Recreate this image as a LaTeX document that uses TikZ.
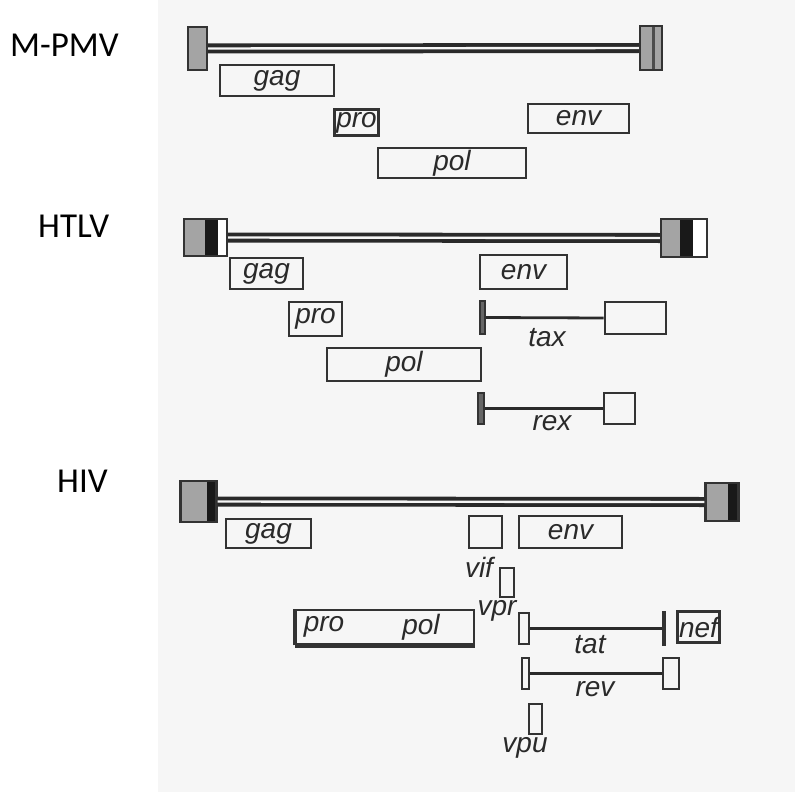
\documentclass[tikz,border=0pt]{standalone}
\usepackage{fontspec}
\setmainfont{Carlito}
\newfontfamily\genefont{Liberation Sans}
\definecolor{scanbg}{HTML}{F6F6F6}
\definecolor{boxc}{HTML}{333333}
\definecolor{linec}{HTML}{2A2A2A}
\definecolor{ltrgray}{HTML}{A4A4A4}
\definecolor{txt}{HTML}{2A2A2A}
\begin{document}
\begin{tikzpicture}[x=1pt,y=-1pt,
  virus/.style={font=\fontsize{35}{40}\selectfont, anchor=base west, inner sep=0pt, text=black},
  gtext/.style={font=\genefont\itshape\fontsize{28}{30}\selectfont, text=txt, inner sep=0pt},
  gbox/.style={gtext, draw=boxc, line width=2.6pt},
  thickbox/.style={line width=3.8pt},
  emptybox/.style={draw=boxc, line width=2.6pt, inner sep=0pt},
  ltr/.style={draw=boxc, line width=2.2pt, inner sep=0pt},
  bar/.style={draw=boxc, fill=black!60, line width=1.8pt, inner sep=0pt},
  dline/.style={draw=linec, line width=3.8pt, double=scanbg, double distance=2.4pt},
  conn/.style={draw=linec, line width=2.8pt},
  glabel/.style={gtext}
]
\useasboundingbox (0,0) rectangle (795,792);
\fill[scanbg] (158,0) rectangle (795,792);

% ---------------- M-PMV ----------------
\node[virus] (mname) at (10,57) {M-PMV};
\fill[ltrgray] (188,27) rectangle (207,70);
\node[ltr, minimum width=19pt, minimum height=43pt] (mL) at (197.5,48.5) {};
\fill[ltrgray] (640,26) rectangle (662,70);
\fill[black!70] (652,26) rectangle (655,70);
\node[ltr, minimum width=22pt, minimum height=44pt] (mR) at (651,48) {};
\draw[dline] (mL.east) -- (mR.west);
\node[gbox, minimum width=114pt, minimum height=31pt] (mgag) at (277,80.5) {gag};
\node[gbox, thickbox, minimum width=44pt, minimum height=26pt] (mpro) at (356.5,122.5) {pro};
\node[gbox, minimum width=101pt, minimum height=29pt] (menv) at (578.5,118.5) {env};
\node[gbox, minimum width=148pt, minimum height=30pt] (mpol) at (452,163) {pol};

% ---------------- HTLV ----------------
\node[virus] (hname) at (38,237) {HTLV};
\fill[ltrgray] (183,218) rectangle (205,257);
\fill[black!90] (205,218) rectangle (218,257);
\fill[white] (218,218) rectangle (228,257);
\node[ltr, minimum width=43pt, minimum height=37pt] (hL) at (205.5,237.5) {};
\fill[ltrgray] (660,218) rectangle (680,258);
\fill[black!90] (680,218) rectangle (693,258);
\fill[white] (693,218) rectangle (708,258);
\node[ltr, minimum width=46pt, minimum height=38pt] (hR) at (684,238) {};
\draw[dline] (hL.east) -- (hR.west);
\node[gbox, minimum width=73pt, minimum height=31pt] (hgag) at (266.5,273.5) {gag};
\node[gbox, minimum width=53pt, minimum height=34pt] (hpro) at (315.5,319) {pro};
\node[gbox, minimum width=154pt, minimum height=33pt] (hpol) at (404,364.5) {pol};
\node[gbox, minimum width=87pt, minimum height=34pt] (henv) at (523.5,272) {env};
\node[bar, minimum width=5pt, minimum height=33pt] (taxbar) at (482.5,317.5) {};
\node[emptybox, minimum width=61pt, minimum height=32pt] (taxbox) at (635.5,318) {};
\draw[conn] (taxbar.east) -- (taxbox.west);
\node[glabel] (taxlabel) at (547,338) {tax};
\node[bar, minimum width=6pt, minimum height=31pt] (rexbar) at (481,408.5) {};
\node[emptybox, minimum width=31pt, minimum height=31pt] (rexbox) at (619.5,408.5) {};
\draw[conn] (rexbar.east) -- (rexbox.west);
\node[glabel] (rexlabel) at (552,423) {rex};

% ---------------- HIV ----------------
\node[virus] (vname) at (57,492) {HIV};
\fill[ltrgray] (180,480) rectangle (207,523);
\fill[black!90] (207,480) rectangle (215,523);
\node[ltr, minimum width=36pt, minimum height=41pt] (vL) at (198.5,501.5) {};
\fill[ltrgray] (705,482) rectangle (728,522);
\fill[black!90] (728,482) rectangle (737,522);
\node[ltr, minimum width=33pt, minimum height=38pt] (vR) at (722,502) {};
\draw[dline] (vL.east) -- (vR.west);
\node[gbox, minimum width=85pt, minimum height=29pt] (vgag) at (268.5,533.5) {gag};
\node[emptybox, minimum width=33pt, minimum height=32pt] (vifbox) at (485.5,532) {};
\node[glabel] (viflabel) at (479,567) {vif};
\node[gbox, minimum width=103pt, minimum height=32pt] (venv) at (570.5,532) {env};
\node[emptybox, minimum width=14pt, minimum height=29pt] (vprbox) at (507,582.5) {};
\node[gbox, minimum width=178pt, minimum height=34pt] (vpp) at (385,627) {};
\draw[draw=boxc, line width=4.4pt] (vpp.south west) -- (vpp.south east);
\draw[draw=boxc, line width=3.8pt] (vpp.south west) -- (vpp.north west);
\node[glabel] (vprotext) at (324,627) {pro};
\node[glabel] (vpoltext) at (421,627) {pol};
\node[glabel] (vprlabel) at (497,611) {vpr};
\node[emptybox, minimum width=10pt, minimum height=31pt] (tatL) at (524,628.5) {};
\node[bar, minimum width=2pt, minimum height=33pt] (tatbar) at (664,628.5) {};
\draw[conn] (tatL.east) -- (tatbar.west);
\node[glabel] (tatlabel) at (590,645) {tat};
\node[gbox, thickbox, minimum width=42pt, minimum height=31pt] (vnef) at (698.5,627) {nef};
\node[emptybox, minimum width=7pt, minimum height=31pt] (revL) at (525.5,673.5) {};
\node[emptybox, minimum width=16pt, minimum height=31pt] (revR) at (671,673.5) {};
\draw[conn] (revL.east) -- (revR.west);
\node[glabel] (revlabel) at (595,689) {rev};
\node[emptybox, minimum width=13pt, minimum height=30pt] (vpubox) at (535.5,719) {};
\node[glabel] (vpulabel) at (525,748) {vpu};
\end{tikzpicture}
\end{document}
